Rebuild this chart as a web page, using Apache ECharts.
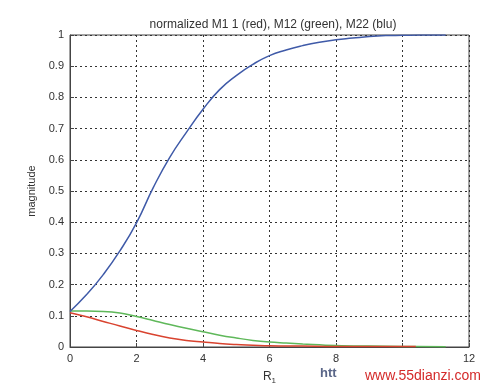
<!DOCTYPE html>
<html><head><meta charset="utf-8">
<script src="https://cdn.jsdelivr.net/npm/echarts@6/dist/echarts.min.js"></script>
<style>html,body{margin:0;padding:0;background:#fff}#c{width:500px;height:390px}</style>
</head><body><div id="c"></div>
<script>
const titleText = 'normalized M1 1 (red), M12 (green), M22 (blu)';
const xTicks = [0, 2, 4, 6, 8, 10, 12];
const xHiddenTick = 10;
const blueX = [0, 0.5, 1.0, 1.5, 2.0, 2.5, 3.0, 3.5, 4.0, 4.5, 5.0, 5.5, 6.0, 6.5, 7.0, 7.5, 8.0, 8.5, 9.0, 9.5, 10.0, 10.5, 11.3];
const blueY = [0.114, 0.168, 0.232, 0.308, 0.398, 0.51, 0.608, 0.688, 0.762, 0.825, 0.870, 0.906, 0.934, 0.952, 0.966, 0.977, 0.985, 0.99, 0.995, 0.998, 0.999, 1.0, 1.0];
const redX = [0, 0.5, 1.0, 1.5, 2.0, 2.5, 3.0, 3.5, 4.0, 4.5, 5.0, 5.5, 6.0, 7.0, 8.0, 9.0, 10.4];
const redY = [0.11, 0.097, 0.082, 0.067, 0.053, 0.04, 0.029, 0.021, 0.016, 0.011, 0.008, 0.006, 0.004, 0.003, 0.002, 0.002, 0.002];
const greenX = [0, 0.5, 1.0, 1.5, 2.0, 2.5, 3.0, 3.5, 4.0, 4.5, 5.0, 5.5, 6.0, 6.5, 7.0, 8.0, 9.0, 10.0, 11.3];
const greenY = [0.115, 0.115, 0.114, 0.109, 0.098, 0.085, 0.072, 0.06, 0.049, 0.038, 0.029, 0.021, 0.016, 0.013, 0.01, 0.005, 0.003, 0.002, 0.001];

const zip = (xs, ys) => xs.map((x, i) => [x, ys[i]]);
const chart = echarts.init(document.getElementById('c'), null, {renderer: 'canvas'});
const font = 'Liberation Sans, Arial, sans-serif';
const gridLine = {show: true, lineStyle: {color: '#333', type: [2, 3], width: 1}};
chart.setOption({
  animation: false,
  backgroundColor: '#fff',
  title: {text: titleText, left: 268, top: 14, textAlign: 'center',
    textStyle: {fontFamily: font, fontSize: 12, fontWeight: 'normal', color: '#333'}},
  grid: {left: 70, right: 31, top: 35, bottom: 41, show: true, borderColor: '#444', borderWidth: 1, containLabel: false},
  xAxis: {type: 'value', min: 0, max: 12, interval: 2,
    name: '{r|R}{s|1}', nameLocation: 'middle', nameGap: 22,
    nameTextStyle: {rich: {r: {fontFamily: font, fontSize: 12, color: '#333'}, s: {fontFamily: font, fontSize: 8, color: '#333', padding: [8, 0, 0, 0]}}},
    axisLine: {show: true, lineStyle: {color: '#444'}},
    axisTick: {show: true, inside: true, length: 4, lineStyle: {color: '#444'}},
    axisLabel: {fontFamily: font, fontSize: 11, color: '#333', margin: 6,
      formatter: v => (v === xHiddenTick ? '' : String(v))},
    splitLine: gridLine},
  yAxis: {type: 'value', min: 0, max: 1, interval: 0.1,
    name: 'magnitude', nameLocation: 'middle', nameGap: 28,
    nameTextStyle: {fontFamily: font, fontSize: 11, color: '#333'},
    axisLine: {show: true, lineStyle: {color: '#444'}},
    axisTick: {show: true, inside: true, length: 4, lineStyle: {color: '#444'}},
    axisLabel: {fontFamily: font, fontSize: 11, color: '#333', margin: 6,
      formatter: v => String(Math.round(v * 10) / 10)},
    splitLine: gridLine},
  series: [
    {type: 'line', data: zip(blueX, blueY), smooth: 0.5, showSymbol: false, lineStyle: {color: '#3f5aa8', width: 1.5}, z: 3},
    {type: 'line', data: zip(greenX, greenY), smooth: 0.4, showSymbol: false, lineStyle: {color: '#5fb85a', width: 1.5}, z: 2},
    {type: 'line', data: zip(redX, redY), smooth: 0.4, showSymbol: false, lineStyle: {color: '#d9432f', width: 1.5}, z: 2}
  ],
  graphic: [
    {type: 'rect', left: 345, top: 366, shape: {width: 155, height: 24}, style: {fill: '#fff'}, z: 100},
    {type: 'text', left: 320, top: 367, style: {text: 'htt', fontFamily: font, fontSize: 13, fontWeight: 'bold', fill: '#5a6688'}, z: 101},
    {type: 'text', left: 365, top: 369, style: {text: 'www.55dianzi.com', fontFamily: font, fontSize: 14, fill: '#d42a2a'}, z: 101}
  ]
});
</script></body></html>
